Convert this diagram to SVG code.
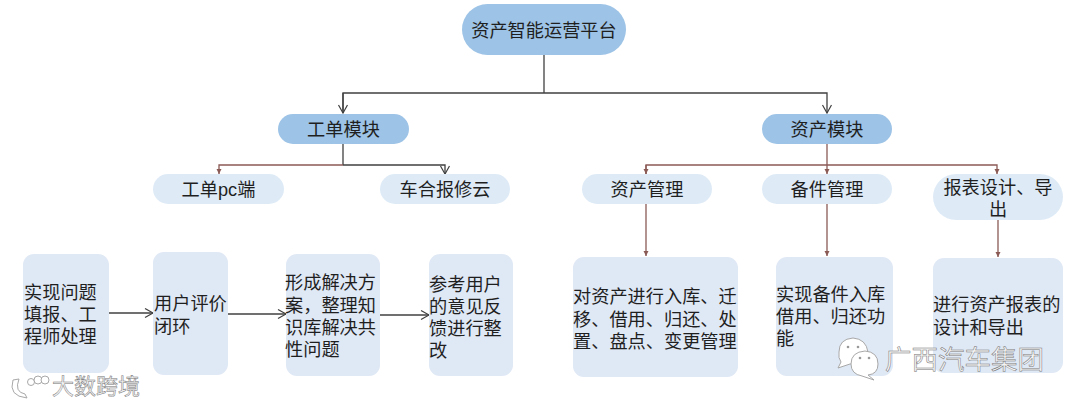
<svg xmlns="http://www.w3.org/2000/svg" width="1080" height="407" viewBox="0 0 1080 407">
<defs>
<marker id="open" markerUnits="userSpaceOnUse" markerWidth="12" markerHeight="12" refX="9" refY="5" orient="auto"><path d="M1 0.5L9 5L1 9.5" fill="none" stroke="#404040" stroke-width="1.2"/></marker>
<marker id="small" markerUnits="userSpaceOnUse" markerWidth="6" markerHeight="6" refX="5" refY="3" orient="auto"><path d="M0 0.5L5 3L0 5.5Z" fill="#8a5a55"/></marker>
</defs>
<style>
text{font-family:"Liberation Sans","Noto Sans CJK SC",sans-serif;font-size:18.2px;fill:#1f1f1f}
.m{text-anchor:middle}
.top{fill:#9dc3e6}
.sub{fill:#deebf7}
.box{fill:#dfe8f5}
.k{fill:none;stroke:#404040;stroke-width:1.3}
.r{fill:none;stroke:#8a5a55;stroke-width:1.3}
.wm{fill:#f4f4f4;stroke:#777;stroke-width:.5}
.wmi{fill:#fff;stroke:#a8a8a8;stroke-width:1}
.eye{fill:#999}
</style>
<rect width="1080" height="407" fill="#fff"/>
<g id="connectors">
<path class="k" d="M544 55V93"/>
<path class="k" d="M343 113V93H827V113" marker-end="url(#open)"/>
<path class="k" d="M343 93V113" marker-end="url(#open)"/>
<path class="k" d="M343 144V165"/>
<path class="r" d="M343 165H219V174" marker-end="url(#small)"/>
<path class="k" d="M343 165H445V174" marker-end="url(#open)"/>
<path class="r" d="M827 144V174" marker-end="url(#small)"/>
<path class="r" d="M646 174V165H997V174" marker-end="url(#small)"/>
<path class="r" d="M646 165V174" marker-end="url(#small)"/>
<path class="r" d="M646 204V256" marker-end="url(#small)"/>
<path class="r" d="M827 204V256" marker-end="url(#small)"/>
<path class="r" d="M998 220V257" marker-end="url(#small)"/>
<path class="k" d="M109 313H153" marker-end="url(#open)"/>
<path class="k" d="M228 314H286" marker-end="url(#open)"/>
<path class="k" d="M380 315H429" marker-end="url(#open)"/>
</g>
<g id="n-root"><rect class="top" x="462" y="4" width="164" height="51" rx="25.500"/><text class="m" x="544" y="37">资产智能运营平台</text></g>
<g id="n-work"><rect class="top" x="278" y="114" width="131" height="30" rx="15"/><text class="m" x="343.500" y="136">工单模块</text></g>
<g id="n-asset"><rect class="top" x="762" y="114" width="130" height="30" rx="15"/><text class="m" x="827" y="136">资产模块</text></g>
<g id="n-pc"><rect class="sub" x="153" y="174" width="131" height="30" rx="15"/><text class="m" x="218.500" y="196">工单pc端</text></g>
<g id="n-cloud"><rect class="sub" x="380" y="174" width="130" height="30" rx="15"/><text class="m" x="445" y="196">车合报修云</text></g>
<g id="n-am"><rect class="sub" x="582" y="174" width="130" height="30" rx="15"/><text class="m" x="647" y="196">资产管理</text></g>
<g id="n-sp"><rect class="sub" x="762" y="174" width="130" height="30" rx="15"/><text class="m" x="827" y="196">备件管理</text></g>
<g id="n-rep"><rect class="sub" x="933" y="174" width="130" height="46" rx="23"/><text class="m" y="194"><tspan x="998">报表设计、导</tspan><tspan x="998" dy="22">出</tspan></text></g>
<g id="b1"><rect class="box" x="23" y="254" width="86" height="119" rx="11"/><text y="299"><tspan x="24">实现问题</tspan><tspan x="24" dy="22">填报、工</tspan><tspan x="24" dy="22">程师处理</tspan></text></g>
<g id="b2"><rect class="box" x="153" y="252" width="75" height="123" rx="11"/><text y="310"><tspan x="154">用户评价</tspan><tspan x="154" dy="23">闭环</tspan></text></g>
<g id="b3"><rect class="box" x="286" y="254" width="94" height="122" rx="11"/><text y="289"><tspan x="285">形成解决方</tspan><tspan x="285" dy="22.500">案，整理知</tspan><tspan x="285" dy="22">识库解决共</tspan><tspan x="285" dy="22">性问题</tspan></text></g>
<g id="b4"><rect class="box" x="429" y="254" width="84" height="122" rx="11"/><text y="291"><tspan x="429">参考用户</tspan><tspan x="429" dy="22">的意见反</tspan><tspan x="429" dy="22">馈进行整</tspan><tspan x="429" dy="22">改</tspan></text></g>
<g id="b5"><rect class="box" x="573" y="257" width="165" height="120" rx="11"/><text y="303"><tspan x="573">对资产进行入库、迁</tspan><tspan x="573" dy="22.500">移、借用、归还、处</tspan><tspan x="573" dy="22">置、盘点、变更管理</tspan></text></g>
<g id="b6"><rect class="box" x="776" y="257" width="117" height="119" rx="11"/><text y="301"><tspan x="776">实现备件入库</tspan><tspan x="776" dy="22">借用、归还功</tspan><tspan x="776" dy="22">能</tspan></text></g>
<g id="b7"><rect class="box" x="933" y="258" width="130" height="115" rx="11"/><text y="311"><tspan x="933">进行资产报表的</tspan><tspan x="933" dy="23">设计和导出</tspan></text></g>
<g id="wm1">
<path class="wmi" d="M13 380L19 379Q14 392 25 394L27 398Q8 396 13 380Z"/>
<circle class="wmi" cx="31" cy="382" r="3.500"/><circle class="wmi" cx="38" cy="380" r="4"/><circle class="wmi" cx="45" cy="380" r="4"/>
<text class="wm" x="52" y="394" style="font-size:22px">大数跨境</text>
</g>
<g id="wm2">
<path class="wmi" d="M839 352Q839 339 853 338Q866 339 868 352Q866 364 850 364L838 368L841 362Q838 358 839 352Z"/>
<path class="wmi" d="M851 364Q851 352 865 351Q878 352 878 364Q878 374 868 375L874 380L862 376Q851 374 851 364Z"/>
<circle class="eye" cx="848" cy="347" r="1.300"/><circle class="eye" cx="858" cy="347" r="1.300"/><circle class="eye" cx="860" cy="358" r="1.300"/><circle class="eye" cx="869" cy="358" r="1.300"/>
<text class="wm" x="885" y="369" style="font-size:26.500px">广西汽车集团</text>
</g>
</svg>
